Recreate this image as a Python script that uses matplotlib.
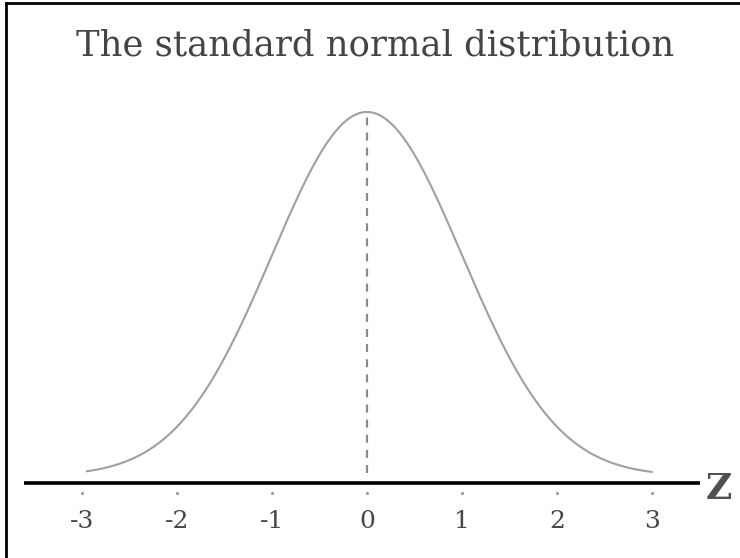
import numpy as np
import matplotlib
matplotlib.use("Agg")
import matplotlib.pyplot as plt
from matplotlib.lines import Line2D

# Chart content
title = "The standard normal distribution"
mean, sd = 0.0, 1.0
z_min, z_max = -2.95, 3.0
tick_values = [-3, -2, -1, 0, 1, 2, 3]
tick_labels = ["-3", "-2", "-1", "0", "1", "2", "3"]
axis_label = "Z"

z = np.linspace(z_min, z_max, 600)
density = np.exp(-0.5 * ((z - mean) / sd) ** 2) / (sd * np.sqrt(2 * np.pi))
peak = 1.0 / (sd * np.sqrt(2 * np.pi))

W, H = 740, 558
fig = plt.figure(figsize=(W / 100, H / 100), dpi=100)
fig.patch.set_facecolor("white")
ax = fig.add_axes([0, 0, 1, 1])

# layout: z=0 at 367 px, 95 px per unit; density 0 at 476 px, 912.5 px per unit
x0, xs = 367.0, 95.0
y0, ys = 476.0, 912.5
ax.set_xlim(-x0 / xs, (W - x0) / xs)
ax.set_ylim((y0 - H) / ys, y0 / ys)
ax.axis("off")


def yd(py):
    return (y0 - py) / ys


def xd(px):
    return (px - x0) / xs


serif = ["DejaVu Serif"]
grey_text = "#474747"

# density curve
ax.plot(z, density, color="#a0a0a0", lw=1.5, solid_capstyle="round")

# dashed line at the mean
ax.plot([mean, mean], [yd(473), peak], color="#8a8a8a", lw=1.6,
        dashes=(3.6, 3.2))

# horizontal axis
ax.plot([xd(24), xd(700)], [yd(483), yd(483)], color="black", lw=2.6,
        solid_capstyle="butt")

# tick marks and labels
ax.plot(tick_values, [yd(493)] * len(tick_values), ls="none", marker="o",
        ms=2.2, color="#9a9a9a", mec="none")
for v, lab in zip(tick_values, tick_labels):
    ax.text(v, yd(521), lab, ha="center", va="center", fontsize=18,
            family=serif, color=grey_text)

ax.text(xd(719), yd(489), axis_label, ha="center", va="center", fontsize=26,
        fontweight="bold", family=serif, color="#505050")

# title
fig.text(375 / W, 1 - 55 / H, title, ha="center", va="baseline", fontsize=25.5,
         family=serif, color="#444444")

# frame edges
fig.add_artist(Line2D([6 / W, 1], [1 - 3 / H, 1 - 3 / H], color="black",
                      lw=2.0, transform=fig.transFigure))
fig.add_artist(Line2D([6 / W, 6 / W], [0, 1 - 3 / H], color="black",
                      lw=2.0, transform=fig.transFigure))

fig.savefig("out.png", dpi=100, facecolor="white")
